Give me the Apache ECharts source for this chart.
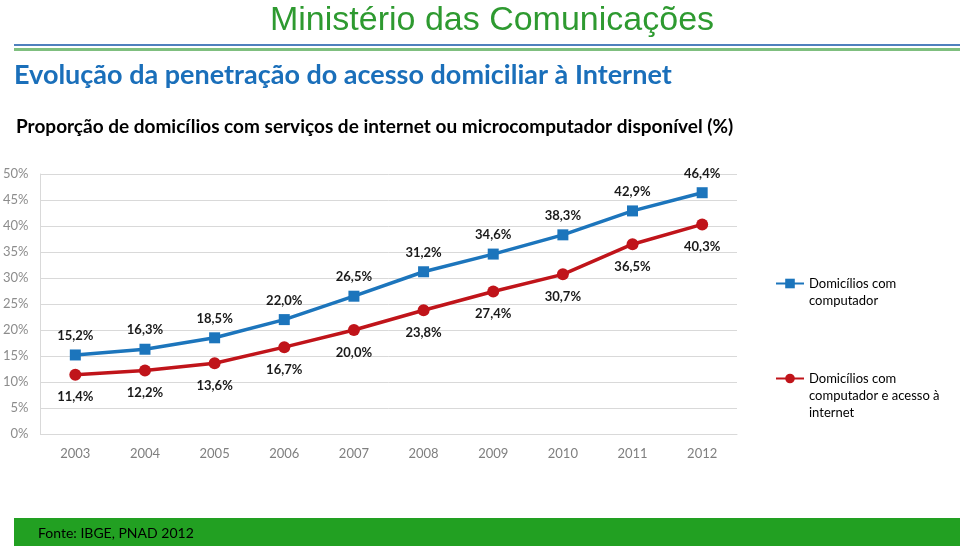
<!DOCTYPE html>
<html><head><meta charset="utf-8">
<script src="https://cdn.jsdelivr.net/npm/echarts@6/dist/echarts.min.js"></script>
<style>html,body{margin:0;padding:0;background:#fff}#c{width:960px;height:546px}</style>
</head><body><div id="c"></div>
<script>
const years = ['2003','2004','2005','2006','2007','2008','2009','2010','2011','2012'];
const computador = [15.2,16.3,18.5,22.0,26.5,31.2,34.6,38.3,42.9,46.4];
const internet = [11.4,12.2,13.6,16.7,20.0,23.8,27.4,30.7,36.5,40.3];
const yTicks = [0,5,10,15,20,25,30,35,40,45,50];
const seriesNames = ['Domicílios com computador','Domicílios com computador e acesso à internet'];
const fmt = v => v.toFixed(1).replace('.', ',') + '%';
const FONT = 'Lato, "Noto Sans", sans-serif';
const chart = echarts.init(document.getElementById('c'));
const legendText = {fontFamily:FONT,fontSize:13,color:'#000',lineHeight:17};
chart.setOption({
  animation:false,
  grid:{left:40,right:223,top:174,bottom:112,containLabel:false},
  xAxis:{type:'category',data:years,boundaryGap:true,
    axisLine:{lineStyle:{color:'#d9d9d9'}},axisTick:{show:false},
    axisLabel:{color:'#7f7f7f',fontSize:13,fontFamily:FONT,margin:13}},
  yAxis:{type:'value',min:yTicks[0],max:yTicks[yTicks.length-1],interval:5,
    axisLine:{show:true,lineStyle:{color:'#d9d9d9'}},
    splitLine:{lineStyle:{color:'#d9d9d9'}},
    axisLabel:{color:'#8c8c8c',fontSize:13,fontFamily:FONT,margin:12,formatter:v=>v+'%'}},
  legend:[{
    data:[seriesNames[0]],left:770,top:253,orient:'vertical',
    itemWidth:28,itemHeight:12,
    formatter:()=>' \nDomicílios com\ncomputador',
    textStyle:legendText
  },{
    data:[seriesNames[1]],left:770,top:331,orient:'vertical',
    itemWidth:28,itemHeight:12,
    formatter:()=>' \n \nDomicílios com\ncomputador e acesso à\ninternet',
    textStyle:legendText
  }],
  series:[{
    name:seriesNames[0],type:'line',data:computador,
    symbol:'rect',symbolSize:11,
    lineStyle:{color:'#1c75bc',width:3.5},itemStyle:{color:'#1c75bc'},
    label:{show:true,position:'top',distance:7,formatter:p=>fmt(p.value),
      fontFamily:FONT,fontWeight:'bold',fontSize:13,color:'#1a1a1a'}
  },{
    name:seriesNames[1],type:'line',data:internet,
    symbol:'circle',symbolSize:12,
    lineStyle:{color:'#c0141a',width:3.5},itemStyle:{color:'#c0141a'},
    label:{show:true,position:'bottom',distance:10,formatter:p=>fmt(p.value),
      fontFamily:FONT,fontWeight:'bold',fontSize:13,color:'#1a1a1a'}
  }],
  graphic:[
    {type:'text',x:492,y:4,style:{text:'Ministério das Comunicações',align:'center',
      font:'34px "Liberation Sans", Arial, sans-serif',fill:'#2e9a30'}},
    {type:'rect',shape:{x:14,y:44,width:946,height:2},style:{fill:'#4f81bd'}},
    {type:'rect',shape:{x:14,y:48,width:946,height:3},style:{fill:'#7fbf7f'}},
    {type:'text',left:14,top:62,style:{text:'Evolução da penetração do acesso domiciliar à Internet',
      font:'bold 27px '+FONT,fill:'#1a6fba'}},
    {type:'text',left:16,top:117,style:{text:'Proporção de domicílios com serviços de internet ou microcomputador disponível (%)',
      font:'bold 19px '+FONT,fill:'#000'}},
    {type:'rect',shape:{x:14,y:518,width:946,height:28},style:{fill:'#22a022'}},
    {type:'text',left:38,top:526,style:{text:'Fonte: IBGE, PNAD 2012',font:'14px '+FONT,fill:'#000'}}
  ]
});
</script></body></html>
